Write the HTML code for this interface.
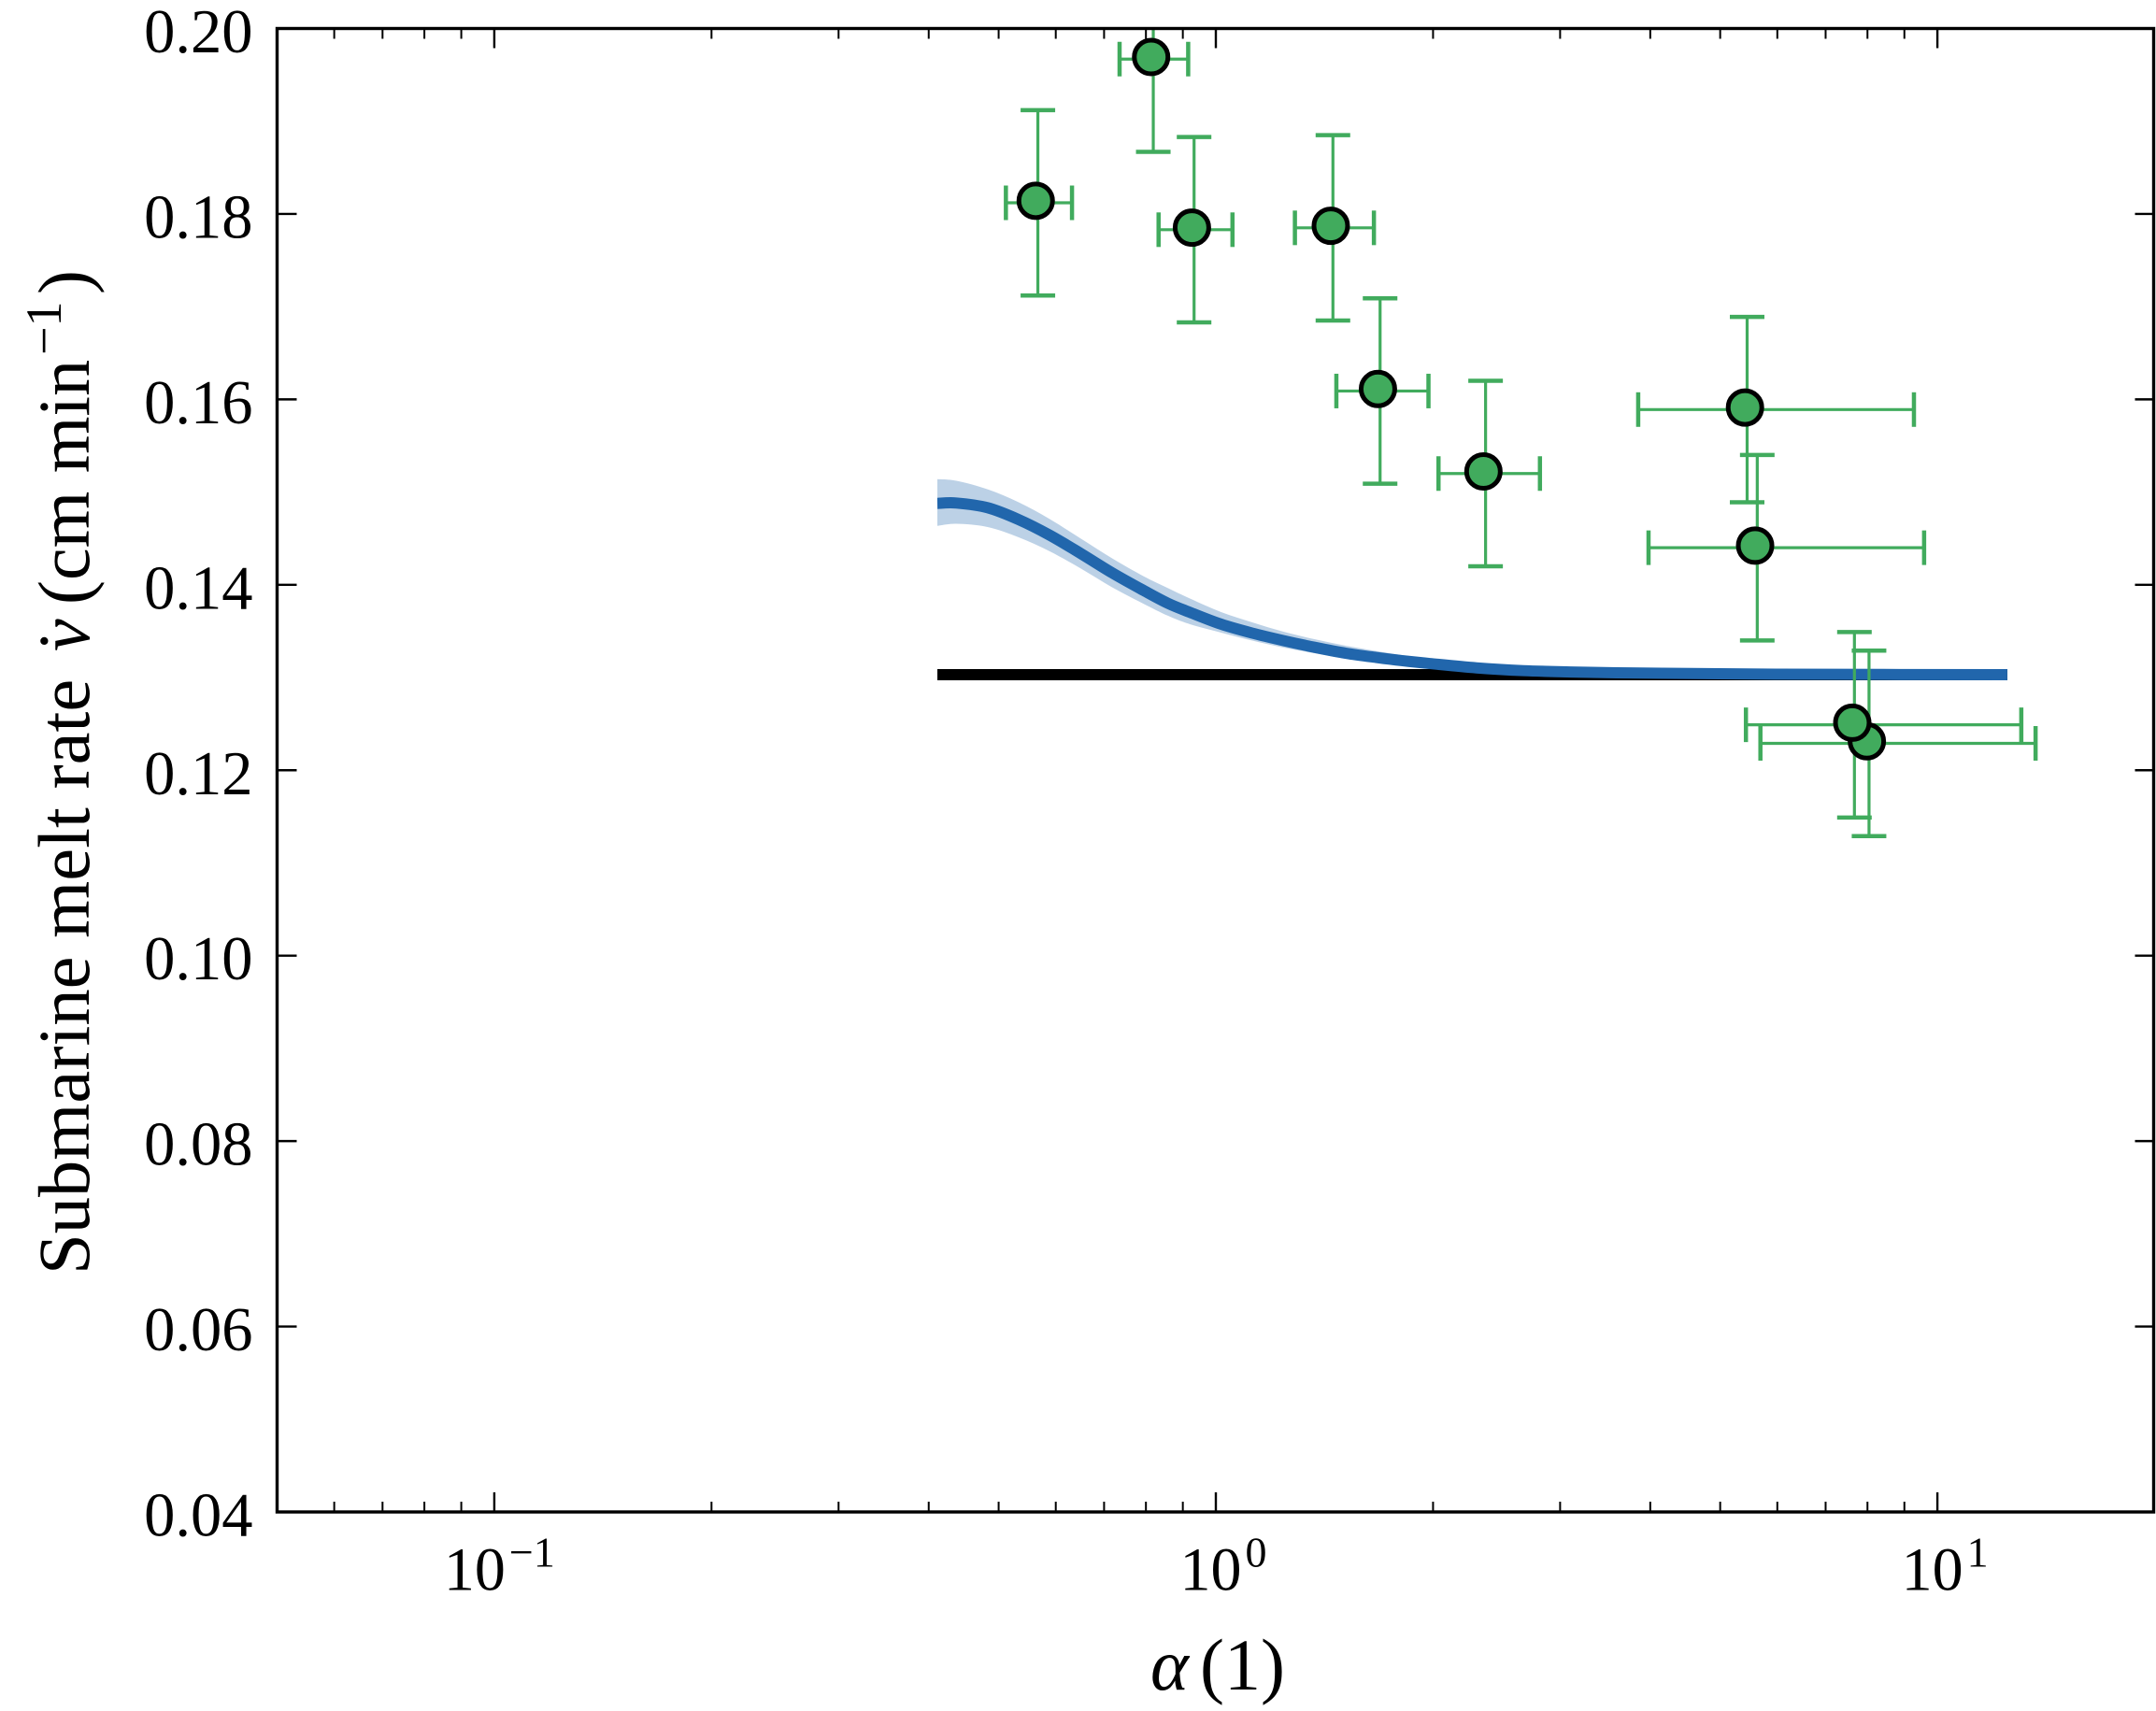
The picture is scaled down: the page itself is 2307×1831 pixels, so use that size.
<!DOCTYPE html>
<html lang="en">
<head>
<meta charset="utf-8">
<title>Submarine melt rate vs alpha</title>
<style>
  html, body { margin: 0; padding: 0; background: #fff; }
  #chart { display: block; width: 2307px; height: 1831px; }
  text { font-family: "Liberation Serif", "Times New Roman", serif; fill: #000; }
</style>
</head>
<body>
<svg id="chart" xmlns="http://www.w3.org/2000/svg" width="2307" height="1831" viewBox="0 0 2307 1831">
  <defs>
    <clipPath id="plot-clip"><rect x="296.5" y="30.5" width="2009" height="1587.5"></rect></clipPath>
  </defs>
  <rect x="0" y="0" width="2307" height="1831" fill="#ffffff"></rect>
  <g id="series"></g>
  <g id="axes"></g>

  <g>
    <text x="1231" y="1808" font-size="78" font-style="italic">α</text>
    <text x="1284" y="1808" font-size="78">(1)</text>
  </g>

  <g transform="translate(95,1364) rotate(-90)">
    <text x="0" y="0" font-size="78.6">Submarine melt rate</text>
    <text x="667" y="0" font-size="78" font-style="italic">v</text>
    <text x="665" y="0" font-size="78">˙</text>
    <text x="717" y="0" font-size="78">(cm min</text>
    <text x="984" y="-30" font-size="54">−1</text>
    <text x="1049" y="0" font-size="78">)</text>
  </g>
</svg>

<script>
// ---- Chart data ----
const xTickValues = [0.1, 1, 10];
const xTickExponents = ['−1', '0', '1'];
const xMinorMultipliers = [2, 3, 4, 5, 6, 7, 8, 9];
const xMinorDecades = [0.01, 0.1, 1, 10];
const yTickValues = [0.04, 0.06, 0.08, 0.10, 0.12, 0.14, 0.16, 0.18, 0.20];
const yTickLabels = ['0.04', '0.06', '0.08', '0.10', '0.12', '0.14', '0.16', '0.18', '0.20'];

const curveAlpha = [0.4112, 0.4369, 0.4827, 0.5330, 0.5886, 0.6503, 0.7182, 0.7932, 0.8589, 0.9207, 1.017, 1.123, 1.241, 1.370, 1.514, 1.672, 1.810, 1.979, 2.298, 2.668, 3.097, 3.595, 4.173, 5.969, 12.50];
const modelMelt = [0.14878, 0.14882, 0.14831, 0.14703, 0.14535, 0.14336, 0.14129, 0.13941, 0.13799, 0.13703, 0.13575, 0.13479, 0.13398, 0.13326, 0.13262, 0.13215, 0.13182, 0.13151, 0.13104, 0.13074, 0.13060, 0.13051, 0.13046, 0.13036, 0.13030];
const modelUpper = [0.1514, 0.15122, 0.1503, 0.1489, 0.14709, 0.14497, 0.14285, 0.14094, 0.13963, 0.13852, 0.13706, 0.13595, 0.13494, 0.13413, 0.13343, 0.13285, 0.13242, 0.13207, 0.13141, 0.13096, 0.13081, 0.13066, 0.13056, 0.13046, 0.1303];
const modelLower = [0.14636, 0.14658, 0.14623, 0.14512, 0.14361, 0.14174, 0.13973, 0.13797, 0.13665, 0.13575, 0.13484, 0.13398, 0.13323, 0.13262, 0.13202, 0.13162, 0.13131, 0.13101, 0.13071, 0.13051, 0.1304, 0.13036, 0.1303, 0.1303, 0.1303];

const baselineAlpha = [0.4112, 12.50];
const baselineMelt = [0.1303, 0.1303];

const obsAlpha = [0.5667, 0.819, 0.9329, 1.453, 1.689, 2.365, 5.449, 5.628, 8.04, 7.674];
const obsAlphaLow = [0.5117, 0.7355, 0.833, 1.287, 1.469, 2.035, 3.849, 3.978, 5.685, 5.428];
const obsAlphaHigh = [0.6319, 0.9155, 1.0545, 1.656, 1.971, 2.813, 9.279, 9.585, 13.68, 13.07];
const obsMelt = [0.1812, 0.1967, 0.1783, 0.1785, 0.1609, 0.1520, 0.1589, 0.1440, 0.1229, 0.1249];
const obsMeltErr = [0.01, 0.01, 0.01, 0.01, 0.01, 0.01, 0.01, 0.01, 0.01, 0.01];

// ---- Axis functions ----
const plotLeft = 296.5, plotRight = 2305.5, plotTop = 30.5, plotBottom = 1618;
const xMin = 0.05, xMax = 20, yMin = 0.04, yMax = 0.20;
function xScale(v) {
  return plotLeft + (Math.log10(v) - Math.log10(xMin)) / (Math.log10(xMax) - Math.log10(xMin)) * (plotRight - plotLeft);
}
function yScale(v) {
  return plotBottom - (v - yMin) / (yMax - yMin) * (plotBottom - plotTop);
}

const NS = 'http://www.w3.org/2000/svg';
const seriesLayer = document.getElementById('series');
const axesLayer = document.getElementById('axes');
function make(tag, parent, attrs) {
  const node = document.createElementNS(NS, tag);
  for (const key in attrs) node.setAttribute(key, attrs[key]);
  parent.appendChild(node);
  return node;
}
function pointsPath(xs, ys) {
  return xs.map((v, i) => (i ? 'L' : 'M') + xScale(v).toFixed(2) + ' ' + yScale(ys[i]).toFixed(2)).join(' ');
}
// Smooth path through sampled points (Catmull-Rom), in pixel space
function smoothPath(xs, ys, move) {
  const p = xs.map((v, i) => [xScale(v), yScale(ys[i])]);
  let d = (move ? 'M' : 'L') + p[0][0].toFixed(2) + ' ' + p[0][1].toFixed(2);
  for (let i = 0; i < p.length - 1; i++) {
    const a = p[Math.max(0, i - 1)], b = p[i], c = p[i + 1], e = p[Math.min(p.length - 1, i + 2)];
    const c1x = b[0] + (c[0] - a[0]) / 6, c1y = b[1] + (c[1] - a[1]) / 6;
    const c2x = c[0] - (e[0] - b[0]) / 6, c2y = c[1] - (e[1] - b[1]) / 6;
    d += ' C' + c1x.toFixed(2) + ' ' + c1y.toFixed(2) + ' ' + c2x.toFixed(2) + ' ' + c2y.toFixed(2) + ' ' + c[0].toFixed(2) + ' ' + c[1].toFixed(2);
  }
  return d;
}

// ---- Series ----
const baselineEl = make('path', seriesLayer, { d: pointsPath(baselineAlpha, baselineMelt), fill: 'none', stroke: '#000000', 'stroke-width': 12 });



const bandPath = smoothPath(curveAlpha, modelUpper, true) + ' ' +
  smoothPath(curveAlpha.slice().reverse(), modelLower.slice().reverse(), false) + ' Z';
const bandEl = make('path', seriesLayer, { d: bandPath, fill: '#2166ac', 'fill-opacity': 0.3, stroke: 'none' });



const modelEl = make('path', seriesLayer, { d: smoothPath(curveAlpha, modelMelt, true), fill: 'none', stroke: '#2166ac', 'stroke-width': 12 });



const errorLayer = make('g', seriesLayer, { 'clip-path': 'url(#plot-clip)', stroke: '#41ab5d', fill: 'none' });


const capHalf = 18.5;
obsAlpha.forEach((a, i) => {
  const cx = xScale(a), cy = yScale(obsMelt[i]);
  const x0 = xScale(obsAlphaLow[i]), x1 = xScale(obsAlphaHigh[i]);
  const y0 = yScale(obsMelt[i] + obsMeltErr[i]), y1 = yScale(obsMelt[i] - obsMeltErr[i]);
  const group = make('g', errorLayer, {});
  
  
  make('line', group, { x1: x0, x2: x1, y1: cy, y2: cy, 'stroke-width': 3.2 });
  make('line', group, { x1: cx, x2: cx, y1: y0, y2: y1, 'stroke-width': 3.2 });
  make('line', group, { x1: x0, x2: x0, y1: cy - capHalf, y2: cy + capHalf, 'stroke-width': 4.5 });
  make('line', group, { x1: x1, x2: x1, y1: cy - capHalf, y2: cy + capHalf, 'stroke-width': 4.5 });
  make('line', group, { x1: cx - capHalf, x2: cx + capHalf, y1: y0, y2: y0, 'stroke-width': 4.5 });
  make('line', group, { x1: cx - capHalf, x2: cx + capHalf, y1: y1, y2: y1, 'stroke-width': 4.5 });
});

const markerNudgeX = -2.3, markerNudgeY = -2.2;
obsAlpha.forEach((a, i) => {
  const dot = make('circle', seriesLayer, {
    cx: xScale(a) + markerNudgeX,
    cy: yScale(obsMelt[i]) + markerNudgeY,
    r: 18,
    fill: '#41ab5d',
    stroke: '#000000',
    'stroke-width': 5
  });
  
  
});

// ---- Axes ----
const majorLen = 21, minorLen = 11;
xMinorDecades.forEach(decade => {
  xMinorMultipliers.forEach(m => {
    const value = decade * m;
    if (value <= xMin || value >= xMax) return;
    const x = xScale(value);
    const bottomTick = make('line', axesLayer, { x1: x, x2: x, y1: plotBottom, y2: plotBottom - minorLen, stroke: '#000', 'stroke-width': 2 });
    
    
    const topTick = make('line', axesLayer, { x1: x, x2: x, y1: plotTop, y2: plotTop + minorLen, stroke: '#000', 'stroke-width': 2 });
    
    
  });
});

xTickValues.forEach((value, i) => {
  const x = xScale(value);
  const bottomTick = make('line', axesLayer, { x1: x, x2: x, y1: plotBottom, y2: plotBottom - majorLen, stroke: '#000', 'stroke-width': 2.4 });
  
  
  const topTick = make('line', axesLayer, { x1: x, x2: x, y1: plotTop, y2: plotTop + majorLen, stroke: '#000', 'stroke-width': 2.4 });
  
  

  const exponent = xTickExponents[i];
  const start = x - 38.5 - (exponent.length - 1) * 15.5;
  const base = make('text', axesLayer, { x: start, y: 1701.7, 'font-size': 66 });
  
  
  base.textContent = '10';
  const sup = make('text', axesLayer, { x: start + 70, y: 1676.5, 'font-size': 46 });
  
  
  sup.textContent = exponent;
});

yTickValues.forEach((value, i) => {
  const y = yScale(value);
  const leftTick = make('line', axesLayer, { x1: plotLeft, x2: plotLeft + majorLen, y1: y, y2: y, stroke: '#000', 'stroke-width': 2.4 });
  
  
  const rightTick = make('line', axesLayer, { x1: plotRight, x2: plotRight - majorLen, y1: y, y2: y, stroke: '#000', 'stroke-width': 2.4 });
  
  
  const label = make('text', axesLayer, { x: 270.5, y: y + 25.5, 'font-size': 66.5, 'text-anchor': 'end' });
  
  
  label.textContent = yTickLabels[i];
});

const frame = make('rect', axesLayer, {
  x: plotLeft, y: plotTop, width: plotRight - plotLeft - 1, height: plotBottom - plotTop,
  fill: 'none', stroke: '#000', 'stroke-width': 3.4
});


</script>
</body>
</html>
